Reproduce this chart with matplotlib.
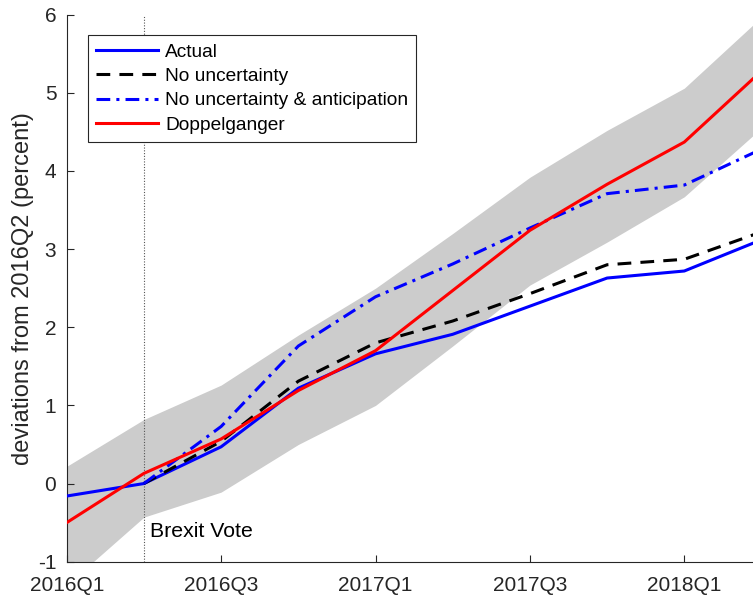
import numpy as np
import matplotlib
matplotlib.use("Agg")
import matplotlib.pyplot as plt

plt.rcParams['font.family'] = ['Liberation Sans', 'DejaVu Sans']
plt.rcParams['axes.unicode_minus'] = False

# quarters since 2016Q1
quarters = np.arange(10)
tick_pos = [0, 2, 4, 6, 8]
tick_labels = ['2016Q1', '2016Q3', '2017Q1', '2017Q3', '2018Q1']

actual = [-0.16, 0.0, 0.47, 1.22, 1.66, 1.91, 2.27, 2.63, 2.72, 3.12]
no_uncertainty = [0.0, 0.54, 1.31, 1.80, 2.08, 2.43, 2.80, 2.87, 3.22]          # from 2016Q2
no_unc_anticip = [0.0, 0.73, 1.76, 2.39, 2.81, 3.27, 3.71, 3.82, 4.28]          # from 2016Q2
doppelganger = [-0.50, 0.13, 0.57, 1.19, 1.70, 2.47, 3.24, 3.83, 4.37, 5.28]
band_upper = [0.22, 0.82, 1.26, 1.90, 2.50, 3.20, 3.92, 4.52, 5.06, 5.97]
band_lower = [-1.30, -0.43, -0.11, 0.50, 1.00, 1.76, 2.54, 3.09, 3.67, 4.55]

brexit_q = 1
axcol = '#262626'

fig = plt.figure(figsize=(7.53, 5.96), dpi=100)
ax = fig.add_axes([0.0886, 0.0576, 0.9114, 0.9177])

ax.fill_between(quarters, band_lower, band_upper, color='#cccccc', lw=0, zorder=1)
ax.axvline(brexit_q, color='#555555', lw=0.8, ls=(0, (1, 1.5)), zorder=2)

ax.plot(quarters, actual, color='#0000ff', lw=2.2, label='Actual', zorder=3)
ax.plot(quarters[1:], no_uncertainty, color='black', lw=2.2, ls=(0, (4.5, 3)),
        label='No uncertainty', zorder=3)
ax.plot(quarters[1:], no_unc_anticip, color='#0000ff', lw=2.2, ls=(0, (4.5, 2, 1, 2)),
        label='No uncertainty & anticipation', zorder=3)
ax.plot(quarters, doppelganger, color='#ff0000', lw=2.2, label='Doppelganger', zorder=4)

ax.text(1.08, -0.62, 'Brexit Vote', fontsize=15.3, color='black', va='center')

ax.set_xlim(0, 8.89)
ax.set_ylim(-1, 6)
ax.set_xticks(tick_pos)
ax.set_xticklabels(tick_labels)
ax.set_yticks(range(-1, 7))
ax.tick_params(direction='in', length=5, width=0.8, colors=axcol, labelsize=15,
               labelcolor=axcol)
ax.tick_params(axis='y', pad=7.5)
ax.tick_params(axis='x', pad=10.5)
for s in ['top', 'right']:
    ax.spines[s].set_visible(False)
for s in ['left', 'bottom']:
    ax.spines[s].set_color(axcol)
    ax.spines[s].set_linewidth(0.8)
ax.set_ylabel('deviations from 2016Q2 (percent)', fontsize=17, color=axcol, labelpad=3)

leg = ax.legend(loc='upper left', bbox_to_anchor=(0.031, 0.963), borderaxespad=0,
                fancybox=False, framealpha=1, edgecolor=axcol, fontsize=13.75,
                handlelength=3.25, labelspacing=0.37, handletextpad=0.35,
                borderpad=0.43)
leg.get_frame().set_linewidth(0.8)

fig.savefig('out.png', dpi=100)
